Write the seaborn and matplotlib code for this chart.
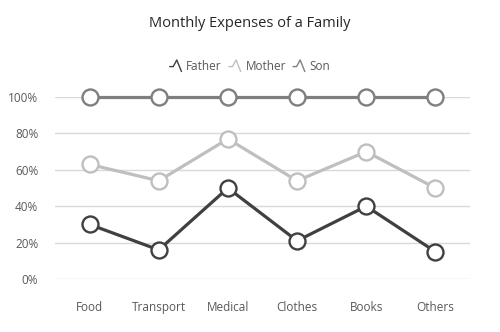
import matplotlib
matplotlib.use("Agg")
import matplotlib.pyplot as plt
import seaborn as sns
import pandas as pd
from matplotlib.lines import Line2D
from matplotlib.legend_handler import HandlerLine2D
from matplotlib.ticker import FuncFormatter

categories = ["Food", "Transport", "Medical", "Clothes", "Books", "Others"]
father = [30, 16, 50, 21, 40, 15]
mother = [33, 38, 27, 33, 30, 35]
son = [37, 46, 23, 46, 30, 50]
series_names = ["Father", "Mother", "Son"]
colors = {"Father": "#404040", "Mother": "#bfbfbf", "Son": "#7f7f7f"}

# 100% stacked cumulative values
rows = []
for i, c in enumerate(categories):
    tot = father[i] + mother[i] + son[i]
    cum = 0
    for name, vals in zip(series_names, [father, mother, son]):
        cum += vals[i]
        rows.append({"cat": c, "series": name, "value": cum / tot})
df = pd.DataFrame(rows)

sns.set_theme(style="white")
plt.rcParams["font.family"] = ["Open Sans", "DejaVu Sans"]
fig = plt.figure(figsize=(5, 3.32), dpi=100)
ax = fig.add_axes([0.11, 0.1596, 0.83, 0.548])

sns.lineplot(data=df, x="cat", y="value", hue="series", palette=colors,
             sort=False, marker="o", ax=ax, legend=False, linewidth=2.3)
for line in ax.lines:
    c = line.get_color()
    line.set_markerfacecolor("white")
    line.set_markeredgecolor(c)
    line.set_markersize(11.5)
    line.set_markeredgewidth(1.7)
    line.set_clip_on(False)

ax.set_xlim(-0.5, len(categories) - 0.5)
ax.set_ylim(0, 1)
ax.set_yticks([0, 0.2, 0.4, 0.6, 0.8, 1.0])
ax.yaxis.set_major_formatter(FuncFormatter(lambda v, p: f"{v*100:.0f}%"))
ax.grid(axis="y", color="#d9d9d9", linewidth=1)
ax.set_axisbelow(True)
for s in ax.spines.values():
    s.set_visible(False)
ax.tick_params(axis="both", length=0, labelsize=8.5, labelcolor="#595959")
ax.tick_params(axis="x", pad=16)
ax.tick_params(axis="y", pad=12)
ax.set_xlabel("")
ax.set_ylabel("")

fig.text(0.5, 0.93, "Monthly Expenses of a Family", ha="center", va="center",
         fontsize=10.5, color="#262626")


class PeakHandler(HandlerLine2D):
    def create_artists(self, legend, orig_handle, xdescent, ydescent, width,
                       height, fontsize, trans):
        x0 = -xdescent
        y0 = -ydescent
        xs = [x0, x0 + width * 0.3, x0 + width * 0.6, x0 + width]
        ys = [y0 + height * 0.4, y0 + height * 0.4, y0 + height * 1.2, y0 - height * 0.2]
        ln = Line2D(xs, ys, color=orig_handle.get_color(), linewidth=1.0)
        ln.set_transform(trans)
        return [ln]


handles = [Line2D([0], [1], color=colors[n]) for n in series_names]
fig.legend(handles, series_names, loc="center", bbox_to_anchor=(0.5, 0.8),
           ncol=3, frameon=False, fontsize=8.5, handlelength=1.0,
           handletextpad=0.4, columnspacing=0.6, labelcolor="#595959",
           handler_map={Line2D: PeakHandler()})

fig.savefig("out.png", dpi=100)
